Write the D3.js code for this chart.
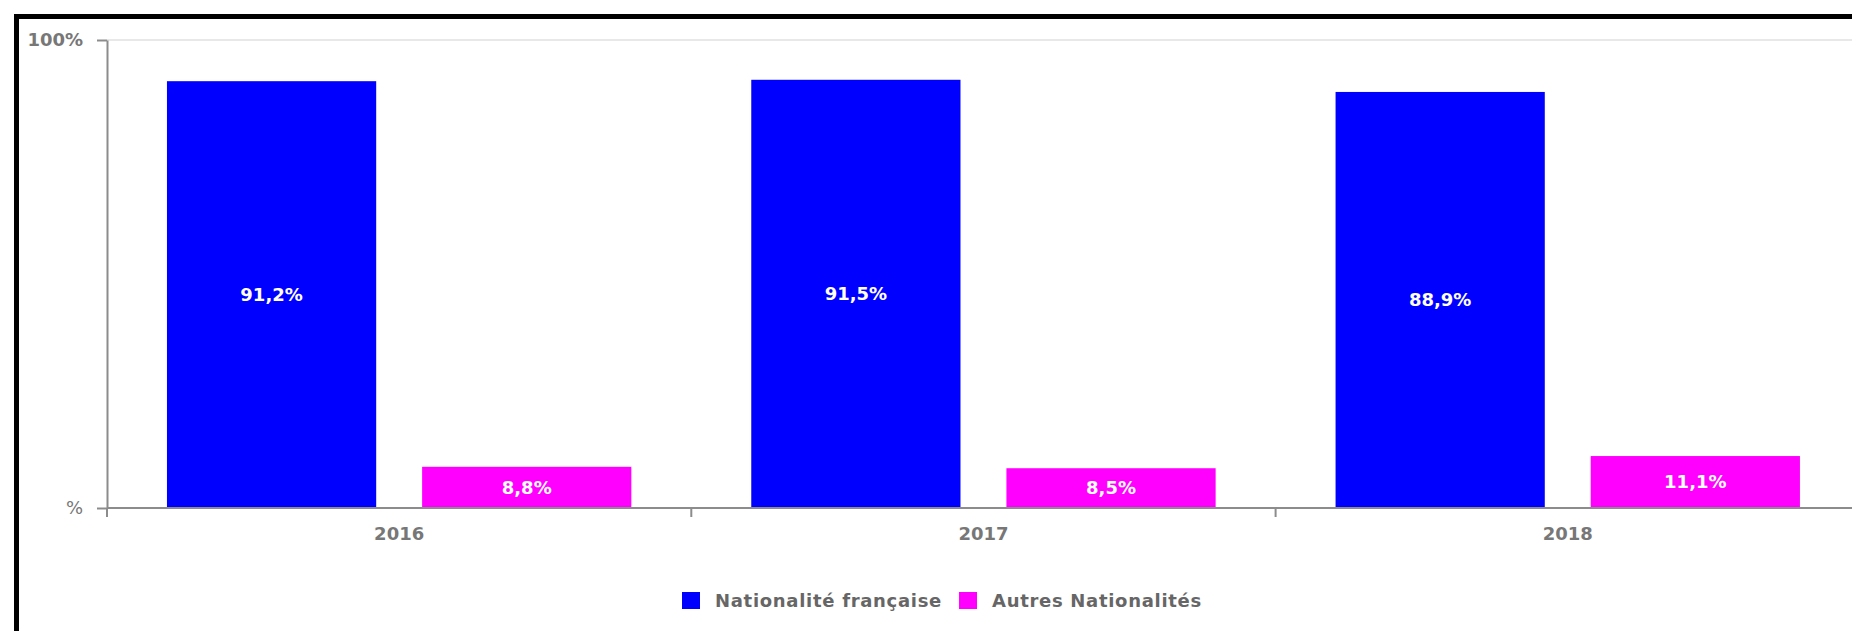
<!DOCTYPE html>
<html>
<head>
<meta charset="utf-8">
<script src="https://cdn.jsdelivr.net/npm/d3@7/dist/d3.min.js"></script>
<style>
  html, body { margin: 0; padding: 0; background: #fff; }
  svg { display: block; }
</style>
</head>
<body>
<div id="chart"></div>
<script>
const years = ['2016', '2017', '2018'];
const seriesNames = ['Nationalité française', 'Autres Nationalités'];
const francaise = [91.2, 91.5, 88.9];
const autres = [8.8, 8.5, 11.1];
const seriesColors = ['#0000ff', '#ff00ff'];
const yTickValues = [0, 100];
const yTickLabels = ['%', '100%'];

const width = 1852;
const height = 631;
const margin = { top: 40, left: 107, bottom: 508 };
const bandWidth = 584.3;

const font = 'DejaVu Sans, sans-serif';
const grey = '#777';
const axisGrey = '#8c8c8c';

const svg = d3.select('#chart')
    .append('svg')
    .attr('width', width)
    .attr('height', height);

svg.append('rect')
    .attr('width', width)
    .attr('height', height)
    .attr('fill', '#fff');

// black frame, clipped on the right and bottom
svg.append('rect')
    .attr('x', 16.5)
    .attr('y', 16.5)
    .attr('width', 2000)
    .attr('height', 2000)
    .attr('fill', 'none')
    .attr('stroke', '#000')
    .attr('stroke-width', 5);

const xScale = d3.scaleBand()
    .domain(years)
    .range([margin.left, margin.left + bandWidth * years.length]);

const xInner = d3.scaleBand()
    .domain(seriesNames)
    .range([0, xScale.bandwidth()])
    .paddingInner(0.18)
    .paddingOuter(0.235);

const yScale = d3.scaleLinear()
    .domain([0, 100])
    .range([margin.bottom, margin.top]);

// grid line at 100%
svg.append('line')
    .attr('x1', margin.left)
    .attr('x2', width)
    .attr('y1', yScale(100))
    .attr('y2', yScale(100))
    .attr('stroke', '#e8e8e8')
    .attr('stroke-width', 2);

const rows = years.map((y, i) => ({
    year: y,
    values: [francaise[i], autres[i]]
}));

const groups = svg.append('g')
    .selectAll('g')
    .data(rows)
    .enter()
    .append('g')
    .attr('transform', d => `translate(${xScale(d.year)},0)`);

groups.selectAll('rect')
    .data(d => d.values.map((v, k) => ({ name: seriesNames[k], value: v, color: seriesColors[k] })))
    .enter()
    .append('rect')
    .attr('x', d => xInner(d.name))
    .attr('width', xInner.bandwidth())
    .attr('y', d => yScale(d.value))
    .attr('height', d => yScale(0) - yScale(d.value))
    .attr('fill', d => d.color);

groups.selectAll('text')
    .data(d => d.values.map((v, k) => ({ name: seriesNames[k], value: v })))
    .enter()
    .append('text')
    .attr('x', d => xInner(d.name) + xInner.bandwidth() / 2)
    .attr('y', d => (yScale(d.value) + yScale(0)) / 2)
    .attr('dy', '0.35em')
    .attr('text-anchor', 'middle')
    .attr('fill', '#fff')
    .style('font-family', font)
    .style('font-weight', 'bold')
    .style('font-size', '18px')
    .text(d => d.value.toFixed(1).replace('.', ',') + '%');

// y axis
const yAxis = d3.axisLeft(yScale)
    .tickValues(yTickValues)
    .tickFormat((d, i) => yTickLabels[i])
    .tickSize(10)
    .tickPadding(14)
    .tickSizeOuter(0);

const yAxisG = svg.append('g')
    .attr('class', 'axis')
    .attr('transform', `translate(${margin.left},0)`)
    .call(yAxis);

yAxisG.select('.domain').attr('stroke', axisGrey).attr('stroke-width', 2);
yAxisG.selectAll('.tick line').attr('stroke', axisGrey).attr('stroke-width', 2);
yAxisG.selectAll('.tick text')
    .attr('fill', grey)
    .style('font-family', font)
    .style('font-weight', d => d === 100 ? 'bold' : 'normal')
    .style('font-size', '18px');

// x axis
const xAxis = d3.axisBottom(xScale)
    .tickSize(0)
    .tickPadding(19)
    .tickSizeOuter(0);

const xAxisG = svg.append('g')
    .attr('class', 'axis')
    .attr('transform', `translate(0,${margin.bottom})`)
    .call(xAxis);

xAxisG.select('.domain').remove();
xAxisG.selectAll('.tick text')
    .attr('fill', grey)
    .style('font-family', font)
    .style('font-weight', 'bold')
    .style('font-size', '18px');

xAxisG.append('line')
    .attr('x1', margin.left)
    .attr('x2', width)
    .attr('stroke', axisGrey)
    .attr('stroke-width', 2);

xAxisG.selectAll('.boundary')
    .data(years.concat(['end']))
    .enter()
    .append('line')
    .attr('class', 'boundary')
    .attr('x1', (d, i) => margin.left + i * xScale.step())
    .attr('x2', (d, i) => margin.left + i * xScale.step())
    .attr('y1', 0)
    .attr('y2', 9)
    .attr('stroke', axisGrey)
    .attr('stroke-width', 2);

// legend
const legend = svg.append('g').attr('transform', 'translate(682,592)');
let lx = 0;
seriesNames.forEach((name, i) => {
    const item = legend.append('g').attr('transform', `translate(${lx},0)`);
    item.append('rect')
        .attr('width', 18)
        .attr('height', 17)
        .attr('fill', seriesColors[i]);
    const t = item.append('text')
        .attr('x', 33)
        .attr('y', 9)
        .attr('dy', '0.35em')
        .attr('fill', '#666')
        .style('font-family', font)
        .style('font-weight', 'bold')
        .style('font-size', '18px')
        .style('letter-spacing', '0.7px')
        .text(name);
    lx += 33 + t.node().getComputedTextLength() + 17;
});
</script>
</body>
</html>
